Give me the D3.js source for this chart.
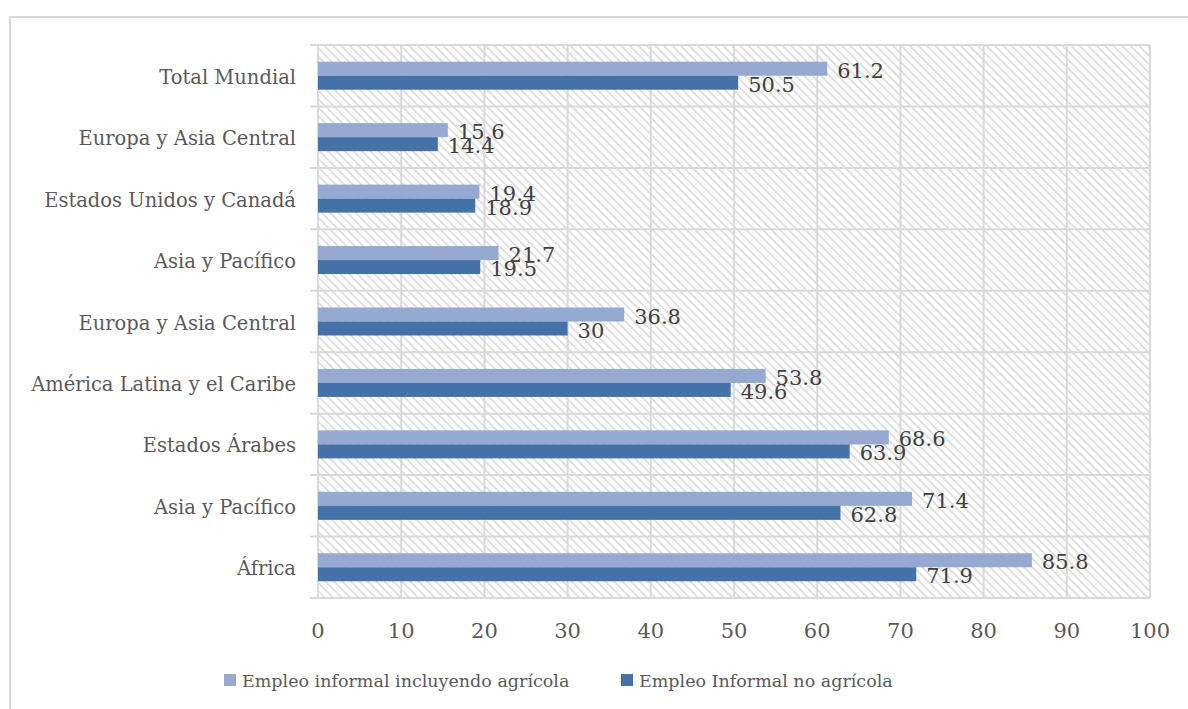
<!DOCTYPE html>
<html><head><meta charset="utf-8">
<script src="https://cdn.jsdelivr.net/npm/d3@7"></script>
<style>
body{margin:0;background:#fff;}
svg text{font-family:"DejaVu Serif","Liberation Serif",serif;fill:#595959;}
</style></head>
<body>
<svg id="chart" width="1188" height="709"></svg>
<script>
const categories = ["Total Mundial","Europa y Asia Central","Estados Unidos y Canadá","Asia y Pacífico","Europa y Asia Central","América Latina y el Caribe","Estados Árabes","Asia y Pacífico","África"];
const seriesNames = ["Empleo informal incluyendo agrícola","Empleo Informal no agrícola"];
const incluyendoAgricola = [61.2,15.6,19.4,21.7,36.8,53.8,68.6,71.4,85.8];
const noAgricola = [50.5,14.4,18.9,19.5,30,49.6,63.9,62.8,71.9];
const xTicks = [0,10,20,30,40,50,60,70,80,90,100];
const colors = ["#95a9d1","#4472a8"];

const svg = d3.select("#chart");
const L = 318, R = 1150, T = 45, B = 598;
const x = d3.scaleLinear().domain([0,100]).range([L,R]);
const y = d3.scaleBand().domain(d3.range(categories.length)).range([T,B]);
const inner = d3.scaleBand().domain([0,1]).range([y.bandwidth()/2-14, y.bandwidth()/2+14]);

// outer border
svg.append("rect").attr("x",10).attr("y",17).attr("width",1200).attr("height",720)
  .attr("fill","none").attr("stroke","#d9d9d9").attr("stroke-width",2);

// hatch pattern
const defs = svg.append("defs");
const pat = defs.append("pattern").attr("id","hatch").attr("patternUnits","userSpaceOnUse")
  .attr("width",6).attr("height",6).attr("patternTransform","rotate(45)");
pat.append("rect").attr("width",6).attr("height",6).attr("fill","#ffffff");
pat.append("line").attr("x1",0).attr("y1",1).attr("x2",6).attr("y2",1)
  .attr("stroke","#dddddd").attr("stroke-width",1.8);

svg.append("rect").attr("x",L).attr("y",T).attr("width",R-L).attr("height",B-T).attr("fill","url(#hatch)");

// grid
svg.append("g").selectAll("line").data(xTicks).join("line")
  .attr("x1",d=>x(d)).attr("x2",d=>x(d)).attr("y1",T).attr("y2",B)
  .attr("stroke","#d9d9d9").attr("stroke-width",2);
const bounds = d3.range(categories.length+1).map(i=>T+i*y.step());
svg.append("g").selectAll("line").data(bounds).join("line")
  .attr("x1",L-8).attr("x2",R).attr("y1",d=>d).attr("y2",d=>d)
  .attr("stroke","#d9d9d9").attr("stroke-width",2);

// bars
const series = [incluyendoAgricola, noAgricola];
series.forEach((vals,s)=>{
  const g = svg.append("g");
  g.selectAll("rect").data(vals).join("rect")
    .attr("x",x(0)).attr("y",(d,i)=>y(i)+inner(s))
    .attr("width",d=>x(d)-x(0)).attr("height",inner.bandwidth())
    .attr("fill",colors[s]);
  g.selectAll("text").data(vals).join("text")
    .attr("x",d=>x(d)+10).attr("y",(d,i)=>y(i)+inner(s)+inner.bandwidth()/2+9)
    .attr("font-size",21).style("fill","#404040")
    .text(d=>d);
});

// category labels
svg.append("g").selectAll("text").data(categories).join("text")
  .attr("x",296).attr("y",(d,i)=>y(i)+y.bandwidth()/2+8)
  .attr("text-anchor","end").attr("font-size",19.5).text(d=>d);

// x axis labels
svg.append("g").selectAll("text").data(xTicks).join("text")
  .attr("x",d=>x(d)).attr("y",638).attr("text-anchor","middle").attr("font-size",21).text(d=>d);

// legend
const leg = [{x:224,tx:242},{x:621,tx:639}];
seriesNames.forEach((n,i)=>{
  svg.append("rect").attr("x",leg[i].x).attr("y",674).attr("width",12).attr("height",12).attr("fill",colors[i]);
  svg.append("text").attr("x",leg[i].tx).attr("y",687).attr("font-size",17.5).text(n);
});
</script>
</body></html>
